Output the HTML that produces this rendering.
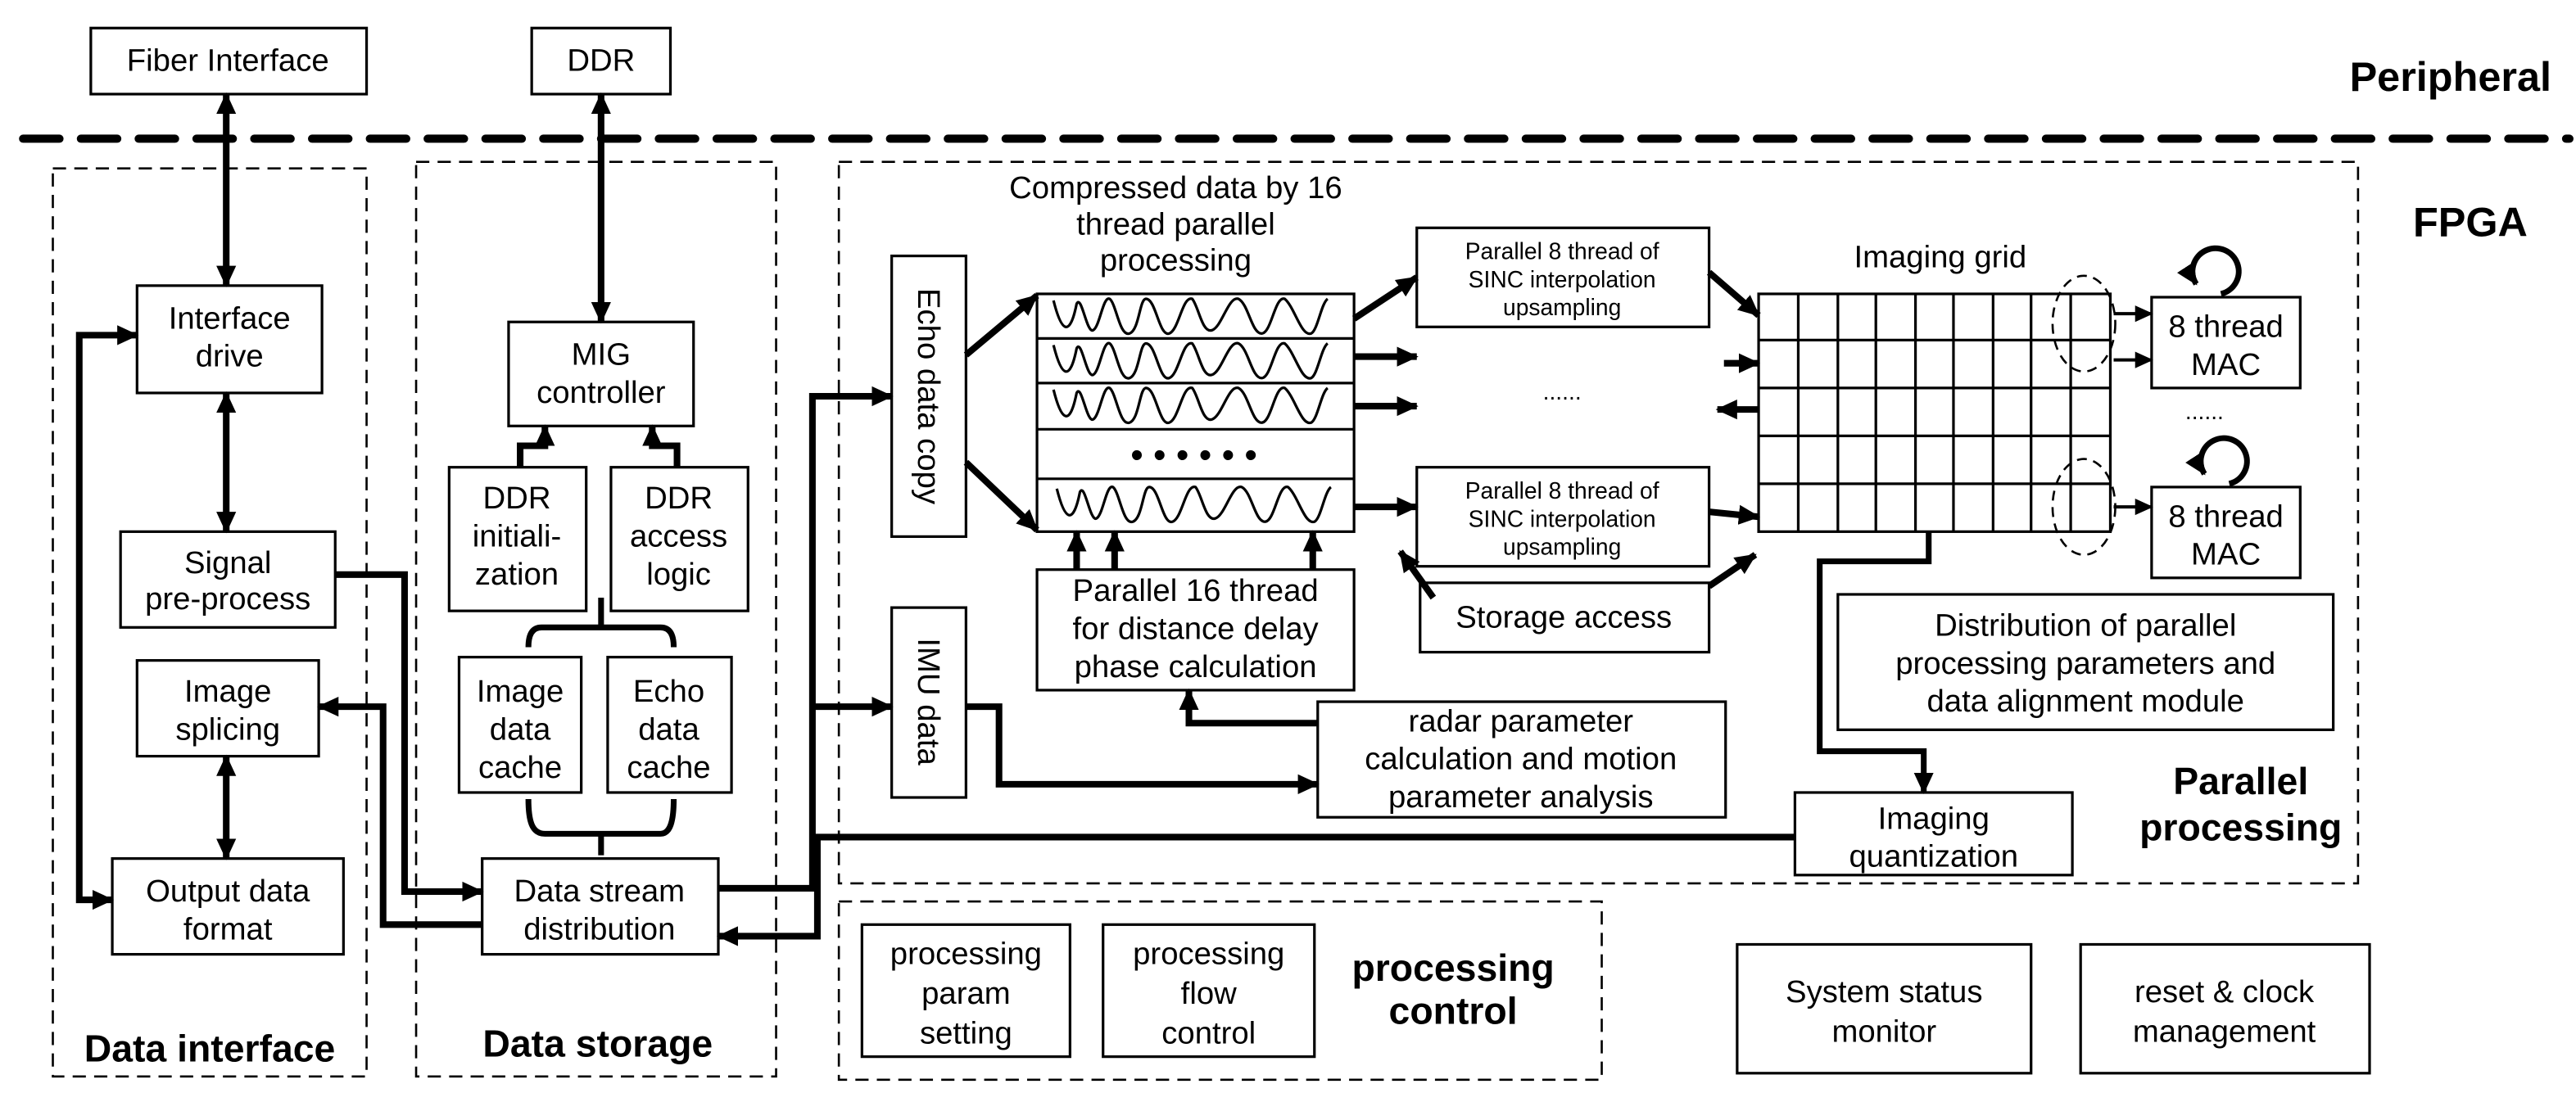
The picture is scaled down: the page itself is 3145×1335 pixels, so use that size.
<!DOCTYPE html>
<html><head><meta charset="utf-8"><style>
html,body{margin:0;padding:0;background:#fff;}
svg{display:block}
text{font-family:"Liberation Sans Narrow","Liberation Sans",sans-serif;fill:#000}
.b{font-weight:bold}
</style></head><body>
<svg width="3145" height="1335" viewBox="0 0 1560 662" preserveAspectRatio="none" xmlns="http://www.w3.org/2000/svg">
<defs>
<marker id="a" markerUnits="userSpaceOnUse" markerWidth="14" markerHeight="14" refX="12" refY="6" orient="auto-start-reverse" viewBox="0 0 14 12"><path d="M0,0 L13,6 L0,12 z" fill="#000"/></marker>
<marker id="s" markerUnits="userSpaceOnUse" markerWidth="11" markerHeight="11" refX="10" refY="5" orient="auto-start-reverse" viewBox="0 0 11 10"><path d="M0,0 L11,5 L0,10 z" fill="#000"/></marker>
<path id="w" d="M0,4 C5,24 10,26 14,6 C17,0 20,24 24,22 C28,20 30,1 34,3 C38,6 40,26 46,24 C52,22 52,3 56,3 C62,3 64,26 70,24 C76,22 78,1 84,3 C88,8 90,24 96,22 C102,20 106,1 112,3 C118,6 120,24 126,24 C132,24 134,1 140,3 C146,8 150,26 156,24 C160,22 162,6 166,3" fill="none" stroke="#000" stroke-width="1.6"/>
</defs>
<g fill="none" stroke="#000">
<line x1="14" y1="84" x2="1556" y2="84" stroke-width="5" stroke-dasharray="22,13" stroke-linecap="round"/>
<g stroke-width="1.3" stroke-dasharray="8,5">
<rect x="32" y="102" width="190" height="550"/>
<rect x="252" y="98" width="218" height="554"/>
<rect x="508" y="98" width="920" height="437"/>
<rect x="508" y="546" width="462" height="108"/>
</g>
<g stroke-width="1.6">
<rect x="55" y="17" width="167" height="40"/>
<rect x="322" y="17" width="84" height="40"/>
<rect x="83" y="173" width="112" height="65"/>
<rect x="73" y="322" width="130" height="58"/>
<rect x="83" y="400" width="110" height="58"/>
<rect x="68" y="520" width="140" height="58"/>
<rect x="308" y="195" width="112" height="63"/>
<rect x="272" y="283" width="83" height="87"/>
<rect x="370" y="283" width="83" height="87"/>
<rect x="278" y="398" width="74" height="82"/>
<rect x="368" y="398" width="75" height="82"/>
<rect x="292" y="520" width="143" height="58"/>
<rect x="540" y="155" width="45" height="170"/>
<rect x="540" y="368" width="45" height="115"/>
<rect x="628" y="178" width="192" height="144"/>
<line x1="628" y1="205" x2="820" y2="205"/><line x1="628" y1="232" x2="820" y2="232"/>
<line x1="628" y1="260" x2="820" y2="260"/><line x1="628" y1="290" x2="820" y2="290"/>
<rect x="858" y="138" width="177" height="60"/>
<rect x="858" y="283" width="177" height="60"/>
<rect x="628" y="345" width="192" height="73"/>
<rect x="860" y="353" width="175" height="42"/>
<rect x="798" y="425" width="247" height="70"/>
<rect x="1113" y="360" width="300" height="82"/>
<rect x="1087" y="480" width="168" height="50"/>
<rect x="1303" y="180" width="90" height="55"/>
<rect x="1303" y="295" width="90" height="55"/>
<rect x="522" y="560" width="126" height="80"/>
<rect x="668" y="560" width="128" height="80"/>
<rect x="1052" y="572" width="178" height="78"/>
<rect x="1260" y="572" width="175" height="78"/>
</g>
<g stroke-width="1.6">
<rect x="1065" y="178" width="213" height="144"/>
<path d="M1089,178V322M1113,178V322M1136,178V322M1160,178V322M1183,178V322M1207,178V322M1230,178V322M1254,178V322"/>
<path d="M1065,206H1278M1065,235H1278M1065,264H1278M1065,293H1278"/>
</g>
<g stroke-width="1.3" stroke-dasharray="6,4">
<ellipse cx="1262" cy="196" rx="19" ry="29"/>
<ellipse cx="1262" cy="307" rx="19" ry="29"/>
</g>
<use href="#w" x="638" y="178"/><use href="#w" x="638" y="205"/><use href="#w" x="638" y="232"/><use href="#w" x="640" y="292"/>
<g stroke-width="4" stroke-linejoin="miter">
<line x1="137" y1="57" x2="137" y2="173" marker-start="url(#a)" marker-end="url(#a)"/>
<line x1="364" y1="57" x2="364" y2="195" marker-start="url(#a)" marker-end="url(#a)"/>
<line x1="137" y1="238" x2="137" y2="322" marker-start="url(#a)" marker-end="url(#a)"/>
<line x1="137" y1="458" x2="137" y2="520" marker-start="url(#a)" marker-end="url(#a)"/>
<polyline points="68,545 48,545 48,203 83,203" marker-start="url(#a)" marker-end="url(#a)"/>
<polyline points="315,283 315,270 330,270 330,258" marker-end="url(#a)"/>
<polyline points="410,283 410,270 395,270 395,258" marker-end="url(#a)"/>
<polyline points="203,348 245,348 245,540 292,540" marker-end="url(#a)"/>
<polyline points="292,560 232,560 232,428 193,428" marker-end="url(#a)"/>
<polyline points="435,538 492,538 492,240 540,240" marker-end="url(#a)"/>
<line x1="492" y1="428" x2="540" y2="428" marker-end="url(#a)"/>
<polyline points="1087,507 495,507 495,567 435,567" marker-end="url(#a)"/>
<line x1="585" y1="215" x2="628" y2="179" marker-end="url(#a)"/>
<line x1="585" y1="280" x2="628" y2="321" marker-end="url(#a)"/>
<line x1="820" y1="193" x2="858" y2="168" marker-end="url(#a)"/>
<line x1="820" y1="216" x2="858" y2="216" marker-end="url(#a)"/>
<line x1="820" y1="246" x2="858" y2="246" marker-end="url(#a)"/>
<line x1="820" y1="307" x2="858" y2="307" marker-end="url(#a)"/>
<line x1="652" y1="345" x2="652" y2="322" marker-end="url(#a)"/>
<line x1="675" y1="345" x2="675" y2="322" marker-end="url(#a)"/>
<line x1="795" y1="345" x2="795" y2="322" marker-end="url(#a)"/>
<line x1="868" y1="362" x2="848" y2="334" marker-end="url(#a)"/>
<line x1="1035" y1="355" x2="1063" y2="336" marker-end="url(#a)"/>
<line x1="1035" y1="165" x2="1065" y2="191" marker-end="url(#a)"/>
<line x1="1035" y1="310" x2="1065" y2="313" marker-end="url(#a)"/>
<line x1="1044" y1="220" x2="1065" y2="220" marker-end="url(#a)"/>
<line x1="1065" y1="248" x2="1040" y2="248" marker-end="url(#a)"/>
<polyline points="798,438 720,438 720,418" marker-end="url(#a)"/>
<polyline points="585,428 605,428 605,475 798,475" marker-end="url(#a)"/>
<polyline points="1168,322 1168,340 1102,340 1102,455 1165,455 1165,480" stroke-width="3.5" marker-end="url(#a)"/>
<path d="M1345,178 A14,14 0 1 0 1330,172" stroke-width="3.5" marker-end="url(#a)"/>
<path d="M1350,293 A14,14 0 1 0 1335,287" stroke-width="3.5" marker-end="url(#a)"/>
<path d="M364,362 V380 M320,392 C320,385 322,380 328,380 H400 C406,380 408,385 408,392" stroke-width="3.5"/>
<path d="M364,518 V505 M320,484 C320,497 322,505 330,505 H400 C406,505 408,497 408,484" stroke-width="3.5"/>
</g>
<g stroke-width="2">
<line x1="1280" y1="190" x2="1303" y2="190" marker-end="url(#s)"/>
<line x1="1280" y1="218" x2="1303" y2="218" marker-end="url(#s)"/>
<line x1="1280" y1="307" x2="1303" y2="307" marker-end="url(#s)"/>
</g>
</g>
<g font-size="19" text-anchor="middle">
<text x="138" y="43">Fiber Interface</text>
<text x="364" y="43">DDR</text>
<text x="139" y="199">Interface</text><text x="139" y="222">drive</text>
<text x="138" y="347">Signal</text><text x="138" y="369">pre-process</text>
<text x="138" y="425">Image</text><text x="138" y="448">splicing</text>
<text x="138" y="546">Output data</text><text x="138" y="569">format</text>
<text x="364" y="221">MIG</text><text x="364" y="244">controller</text>
<text x="313" y="308">DDR</text><text x="313" y="331">initiali-</text><text x="313" y="354">zation</text>
<text x="411" y="308">DDR</text><text x="411" y="331">access</text><text x="411" y="354">logic</text>
<text x="315" y="425">Image</text><text x="315" y="448">data</text><text x="315" y="471">cache</text>
<text x="405" y="425">Echo</text><text x="405" y="448">data</text><text x="405" y="471">cache</text>
<text x="363" y="546">Data stream</text><text x="363" y="569">distribution</text>
<text transform="translate(556,240) rotate(90)">Echo data copy</text>
<text transform="translate(556,425) rotate(90)">IMU data</text>
<text x="712" y="120">Compressed data by 16</text>
<text x="712" y="142">thread parallel</text>
<text x="712" y="164">processing</text>
<text x="723" y="283" font-size="22">• • • • • •</text>
<text x="724" y="364">Parallel 16 thread</text>
<text x="724" y="387">for distance delay</text>
<text x="724" y="410">phase calculation</text>
<text x="947" y="380">Storage access</text>
<text x="921" y="443">radar parameter</text>
<text x="921" y="466">calculation and motion</text>
<text x="921" y="489">parameter analysis</text>
<text x="1175" y="162">Imaging grid</text>
<text x="1263" y="385">Distribution of parallel</text>
<text x="1263" y="408">processing parameters and</text>
<text x="1263" y="431">data alignment module</text>
<text x="1171" y="502">Imaging</text><text x="1171" y="525">quantization</text>
<text x="1348" y="204">8 thread</text><text x="1348" y="227">MAC</text>
<text x="1348" y="319">8 thread</text><text x="1348" y="342">MAC</text>
<text x="585" y="584">processing</text><text x="585" y="608">param</text><text x="585" y="632">setting</text>
<text x="732" y="584">processing</text><text x="732" y="608">flow</text><text x="732" y="632">control</text>
<text x="1141" y="607">System status</text><text x="1141" y="631">monitor</text>
<text x="1347" y="607">reset &amp; clock</text><text x="1347" y="631">management</text>
</g>
<g font-size="14" text-anchor="middle">
<text x="946" y="157">Parallel 8 thread of</text><text x="946" y="174">SINC interpolation</text><text x="946" y="191">upsampling</text>
<text x="946" y="302">Parallel 8 thread of</text><text x="946" y="319">SINC interpolation</text><text x="946" y="336">upsampling</text>
<text x="946" y="242">......</text>
<text x="1335" y="254">......</text>
</g>
<g class="b" font-size="23" text-anchor="middle">
<text x="127" y="643">Data interface</text>
<text x="362" y="640">Data storage</text>
<text x="1357" y="481">Parallel</text><text x="1357" y="509">processing</text>
<text x="880" y="594">processing</text><text x="880" y="620">control</text>
<text x="1496" y="143" font-size="25">FPGA</text>
<text x="1484" y="55" font-size="25">Peripheral</text>
</g>
</svg>
</body></html>
